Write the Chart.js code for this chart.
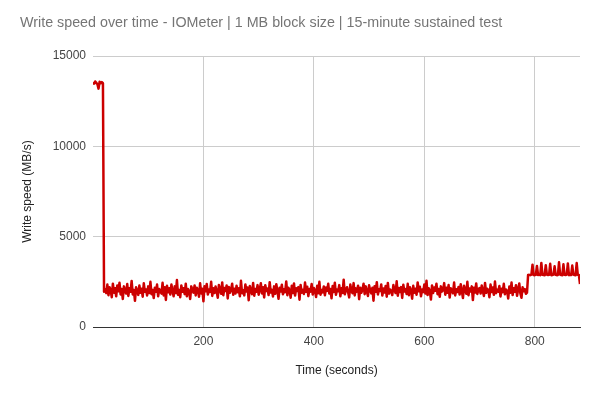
<!DOCTYPE html>
<html>
<head>
<meta charset="utf-8">
<title>Write speed over time</title>
<script src="https://cdn.jsdelivr.net/npm/chart.js@4.4.0/dist/chart.umd.min.js"></script>
<style>
    html, body { margin: 0; padding: 0; background: #ffffff; }
    #wrap { width: 600px; height: 400px; }
</style>
</head>
<body>
<div id="wrap"><canvas id="speedChart" width="600" height="400"></canvas></div>
<script>
// -----------------------------
// DATA (one sample every 2 seconds)
// -----------------------------
const SAMPLE_SECONDS = 2;

const xTickValues = [200, 400, 600, 800];
const yTickValues = [0, 5000, 10000, 15000];

// 0 - 18 s : cache burst
const startupSpeeds = [
    13550, 13480, 13600, 13520, 13450, 13200, 13580, 13500, 13560, 13500
];

// 20 - 786 s : sustained write after cache is full
const sustainedSpeeds = [
    1950, 2100, 1880, 2350, 1760, 2200, 2050, 1650, 2400, 1900, 2150, 1700, 2300, 1980, 2450, 1800, 2100, 1550, 2250, 2000,
    1850, 2380, 1720, 2150, 1950, 2550, 1800, 2050, 1450, 2200, 2000, 1780, 2300, 1900, 2120, 1680, 2420, 1950, 2080, 1750,
    2250, 1880, 2500, 1820, 2050, 1600, 2180, 1950, 2350, 1700, 2100, 2000, 1850, 2450, 1750, 2200, 1500, 2280, 1920, 2150,
    1800, 2350, 2000, 1700, 2250, 1880, 2600, 1780, 2050, 1650, 2300, 1950, 2150, 1820, 2400, 1700, 2100, 1980, 1550, 2250,
    2050, 1900, 2300, 1750, 2180, 2020, 1680, 2420, 1860, 2120, 1420, 2260, 1980, 2380, 1800, 2080, 1940, 2500, 1720, 2150,
    1880, 2240, 1960, 1620, 2330, 2070, 1840, 2470, 1760, 2160, 1990, 2300, 1580, 2210, 1900, 2060, 2400, 1780, 2120, 1850,
    2290, 1930, 2140, 1700, 2560, 1870, 2030, 1750, 2360, 1960, 2190, 1480, 2270, 2010, 1820, 2440, 1730, 2110, 1950, 2320,
    1790, 2080, 2420, 1860, 2200, 1640, 2310, 1990, 2130, 1770, 2480, 1910, 2060, 1690, 2250, 1840, 2370, 2000, 1560, 2180,
    1970, 2340, 1810, 2090, 1930, 2520, 1760, 2170, 2040, 1620, 2290, 1880, 2410, 1740, 2140, 1990, 2210, 1510, 2330, 1900,
    2060, 1830, 2460, 1950, 2230, 1710, 2100, 1960, 2380, 1800, 2160, 2020, 1660, 2280, 1870, 2500, 1790, 2050, 1920, 2240,
    1760, 2190, 2000, 2390, 1850, 2110, 1590, 2270, 1940, 2450, 1780, 2070, 1980, 2320, 1700, 2150, 1890, 2620, 1810, 2030,
    2200, 1920, 1640, 2350, 2010, 1870, 2430, 1750, 2140, 1960, 2290, 1540, 2180, 1900, 2060, 2400, 1820, 2250, 1970, 1720,
    2310, 2040, 1860, 2170, 1460, 2260, 1950, 2480, 1800, 2090, 2000, 2360, 1740, 2130, 1910, 2270, 1680, 2440, 1850, 2080,
    1990, 1770, 2320, 2050, 1880, 2530, 1730, 2160, 1940, 2210, 1610, 2340, 1960, 2100, 1830, 2390, 1760, 2200, 2020, 1570,
    2280, 1900, 2120, 1790, 2470, 1980, 2230, 1700, 2080, 1930, 2350, 1850, 2560, 1770, 2150, 1990, 1520, 2300, 1880, 2190,
    2010, 2400, 1820, 2110, 1670, 2250, 1960, 2050, 2430, 1790, 2170, 1900, 2320, 1630, 2140, 2030, 1870, 2460, 1750, 2090,
    1940, 2220, 1800, 2370, 1990, 1600, 2280, 2060, 1840, 2500, 1760, 2130, 1970, 2250, 1490, 2180, 1910, 2410, 1830, 2070,
    2160, 1850, 2300, 1980, 1720, 2440, 1890, 2120, 2020, 1650, 2350, 1940, 2190, 1780, 2520, 1870, 2060, 1960, 2270, 1690,
    2120, 1930, 2390, 1810, 2080, 2000, 1580, 2240, 1900, 2460, 1770, 2150, 1950, 2310, 1730, 2090, 2410, 1860, 1620, 2200,
    1980, 2100, 1840, 1900
];

// 788 - 882 s : higher plateau with periodic spikes
const plateauSpeeds = [
    2880, 2890, 2870, 2900,
    3450, 2880, 2870, 2890, 3380, 2880, 2900, 2870, 3550, 2890, 2880, 2870,
    3420, 2900, 2880, 2890, 3500, 2870, 2880, 2900, 3360, 2890, 2870, 2880,
    3580, 2900, 2880, 2870, 3470, 2890, 2880, 2900, 3520, 2870, 2890, 2880,
    3400, 2900, 2880, 2870, 3540, 2890, 2880,
    2380
];

const allSpeeds = startupSpeeds.concat(sustainedSpeeds, plateauSpeeds);
const points = allSpeeds.map((v, i) => ({ x: i * SAMPLE_SECONDS, y: v }));
const lastSecond = (allSpeeds.length - 1) * SAMPLE_SECONDS;


// -----------------------------
// CHART
// -----------------------------
const FONT = "'Liberation Sans', Arial, sans-serif";

const ctx = document.getElementById("speedChart").getContext("2d");
const speedChart = new Chart(ctx, {
    type: "line",
    data: {
        datasets: [{
            label: "Write speed (MB/s)",
            data: points,
            borderColor: "#cc0000",
            backgroundColor: "#cc0000",
            borderWidth: 2.5,
            borderJoinStyle: "round",
            pointRadius: 0,
            tension: 0,
            fill: false
        }]
    },
    options: {
        responsive: false,
        animation: false,
        layout: {
            padding: { left: 20, right: 20, top: 0, bottom: 0 }
        },
        plugins: {
            legend: { display: false },
            tooltip: { enabled: false },
            title: {
                display: true,
                text: "Write speed over time - IOMeter | 1 MB block size | 15-minute sustained test",
                align: "start",
                color: "#757575",
                font: { family: FONT, size: 14.3, weight: "normal" },
                padding: { top: 14, bottom: 25 }
            }
        },
        scales: {
            x: {
                type: "linear",
                min: 0,
                max: lastSecond,
                afterBuildTicks: (scale) => {
                    scale.ticks = xTickValues.map(v => ({ value: v }));
                },
                afterFit: (scale) => { scale.height = 73; },
                ticks: {
                    color: "#444444",
                    font: { family: FONT, size: 12 },
                    padding: 7,
                    maxRotation: 0,
                    callback: (v) => String(v)
                },
                grid: { color: "#cccccc", drawTicks: false },
                border: { display: true, color: "#333333", width: 1 },
                title: {
                    display: true,
                    text: "Time (seconds)",
                    color: "#222222",
                    font: { family: FONT, size: 12 },
                    padding: { top: 0, bottom: 22 }
                }
            },
            y: {
                min: 0,
                max: 15000,
                afterBuildTicks: (scale) => {
                    scale.ticks = yTickValues.map(v => ({ value: v }));
                },
                afterFit: (scale) => { scale.width = 73; },
                ticks: {
                    color: "#444444",
                    font: { family: FONT, size: 12 },
                    padding: 7,
                    callback: (v) => String(v)
                },
                grid: { color: "#cccccc", drawTicks: false },
                border: { display: false },
                title: {
                    display: true,
                    text: "Write speed (MB/s)",
                    color: "#222222",
                    font: { family: FONT, size: 12 },
                    padding: { top: 0, bottom: 0 }
                }
            }
        }
    }
});
</script>
</body>
</html>
